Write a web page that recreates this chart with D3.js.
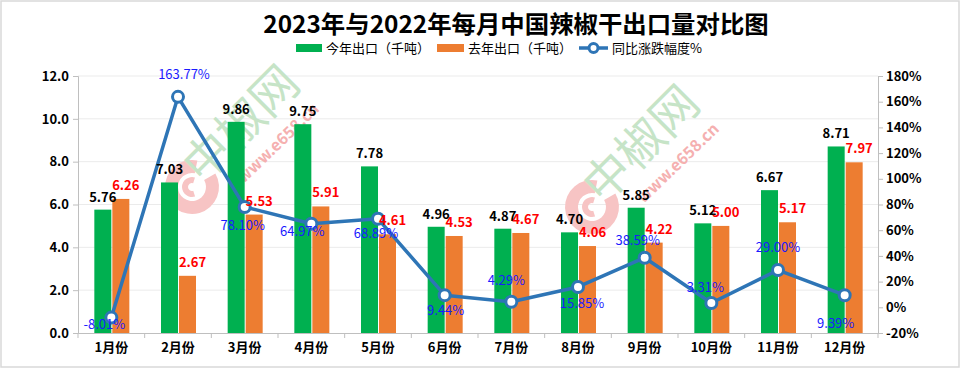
<!DOCTYPE html>
<html>
<head>
<meta charset="utf-8">
<script src="https://cdn.jsdelivr.net/npm/d3@7"></script>
<style>
  body { margin: 0; background: #fff; }
  text { font-family: "Noto Sans CJK SC", "Noto Sans", sans-serif; }
</style>
</head>
<body>
<div id="chart"></div>
<script>
// data
const months = ["1月份", "2月份", "3月份", "4月份", "5月份", "6月份", "7月份", "8月份", "9月份", "10月份", "11月份", "12月份"];
const thisYear = [5.76, 7.03, 9.86, 9.75, 7.78, 4.96, 4.87, 4.70, 5.85, 5.12, 6.67, 8.71];
const lastYear = [6.26, 2.67, 5.53, 5.91, 4.61, 4.53, 4.67, 4.06, 4.22, 5.00, 5.17, 7.97];
const change = [-8.01, 163.77, 78.10, 64.97, 68.89, 9.44, 4.29, 15.85, 38.59, 3.31, 29.00, 9.39];
const leftTicks = [0, 2, 4, 6, 8, 10, 12];
const rightTicks = [-20, 0, 20, 40, 60, 80, 100, 120, 140, 160, 180];

// where each percent label sits relative to its point (layout, not data)
const pctLabelOffset = [[-7, 7], [6, -22], [-2, 19], [-9, 8], [-2, 15], [1, 15],
                        [-5, -21], [4, 17], [-7, -17], [-6, -16], [0, -23], [-9, 28]];

const W = 961, H = 370;
const margin = { left: 78, right: 83, top: 76, bottom: 37 };
const green = "#00b050", orange = "#ed7d31", lineColor = "#2e75b6";

const svg = d3.select("#chart").append("svg")
    .attr("width", W)
    .attr("height", H);

// outer frame
svg.append("rect")
    .attr("x", 1).attr("y", 1)
    .attr("width", W - 3).attr("height", H - 4)
    .attr("fill", "#fff")
    .attr("stroke", "#d9d9d9")
    .attr("stroke-width", 1.5);

const x = d3.scaleBand()
    .domain(months)
    .range([margin.left, W - margin.right]);

const yL = d3.scaleLinear().domain([0, 12]).range([H - margin.bottom, margin.top]);
const yR = d3.scaleLinear().domain([-20, 180]).range([H - margin.bottom, margin.top]);

// gridlines
svg.append("g")
    .selectAll("line")
    .data(leftTicks.slice(1))
    .join("line")
    .attr("x1", margin.left).attr("x2", W - margin.right)
    .attr("y1", d => yL(d)).attr("y2", d => yL(d))
    .attr("stroke", "#ebebeb")
    .attr("stroke-width", 1);

// faint site watermarks behind the bars
function watermark(tx, ty) {
    const g = svg.append("g").attr("transform", `translate(${tx},${ty})`);
    const logo = g.append("g").attr("transform", "translate(-48,64)").attr("fill", "#f7c4c4");
    logo.append("path")
        .attr("d", d3.arc().innerRadius(14).outerRadius(27).startAngle(Math.PI / 3).endAngle(2 * Math.PI + 0.2)());
    logo.append("path")
        .attr("d", d3.arc().innerRadius(4).outerRadius(10).startAngle(Math.PI * 0.9).endAngle(2 * Math.PI + 0.3)());
    g.append("text")
        .attr("transform", "rotate(-45)")
        .attr("dy", "0.38em")
        .attr("font-size", 47)
        .attr("fill", "#c6e4c7")
        .attr("text-anchor", "middle")
        .text("中椒网");
    g.append("text")
        .attr("transform", "translate(38,20) rotate(-44)")
        .attr("dy", "0.35em")
        .attr("font-size", 16).attr("font-weight", "bold")
        .attr("fill", "#f5b0b0")
        .attr("text-anchor", "middle")
        .text("www.e658.cn");
}
watermark(240, 123);
watermark(640, 143);

// bars
const barW = 17;
svg.append("g")
    .selectAll("rect")
    .data(thisYear)
    .join("rect")
    .attr("x", (d, i) => x(months[i]) + x.bandwidth() / 2 - barW)
    .attr("y", d => yL(d))
    .attr("width", barW)
    .attr("height", d => yL(0) - yL(d))
    .attr("fill", green);

svg.append("g")
    .selectAll("rect")
    .data(lastYear)
    .join("rect")
    .attr("x", (d, i) => x(months[i]) + x.bandwidth() / 2 + 1)
    .attr("y", d => yL(d))
    .attr("width", barW)
    .attr("height", d => yL(0) - yL(d))
    .attr("fill", orange);

// axes
const axisColor = "#bfbfbf";
const axisL = svg.append("g")
    .attr("transform", `translate(${margin.left},0)`)
    .call(d3.axisLeft(yL).tickValues(leftTicks).tickFormat(d3.format(".1f")).tickSize(5).tickPadding(4));
const axisR = svg.append("g")
    .attr("transform", `translate(${W - margin.right},0)`)
    .call(d3.axisRight(yR).tickValues(rightTicks).tickFormat(d => d + "%").tickSize(5).tickPadding(3));
const axisB = svg.append("g")
    .attr("transform", `translate(0,${H - margin.bottom})`)
    .call(d3.axisBottom(x).tickSize(0).tickPadding(10));

// category boundary ticks on the bottom axis
svg.append("g")
    .selectAll("line")
    .data(d3.range(months.length + 1))
    .join("line")
    .attr("x1", i => margin.left + i * x.bandwidth())
    .attr("x2", i => margin.left + i * x.bandwidth())
    .attr("y1", H - margin.bottom).attr("y2", H - margin.bottom + 5)
    .attr("stroke", axisColor);

[axisL, axisR, axisB].forEach(a => {
    a.selectAll("path, line").attr("stroke", axisColor);
    a.selectAll("text")
        .attr("font-family", '"Noto Sans CJK SC", sans-serif')
        .attr("font-size", 13)
        .attr("font-weight", "bold")
        .attr("fill", "#000");
});

// line series
const line = d3.line()
    .x((d, i) => x(months[i]) + x.bandwidth() / 2)
    .y(d => yR(d));

svg.append("path")
    .datum(change)
    .attr("d", line)
    .attr("fill", "none")
    .attr("stroke", lineColor)
    .attr("stroke-width", 3.5)
    .attr("stroke-linejoin", "round");

svg.append("g")
    .selectAll("circle")
    .data(change)
    .join("circle")
    .attr("cx", (d, i) => x(months[i]) + x.bandwidth() / 2)
    .attr("cy", d => yR(d))
    .attr("r", 5.5)
    .attr("fill", "#fff")
    .attr("stroke", lineColor)
    .attr("stroke-width", 3);

// value labels
svg.append("g")
    .selectAll("text")
    .data(thisYear)
    .join("text")
    .attr("x", (d, i) => x(months[i]) + x.bandwidth() / 2 - barW / 2)
    .attr("y", d => yL(d) - 8)
    .attr("text-anchor", "middle")
    .attr("font-size", 13).attr("font-weight", "bold")
    .attr("fill", "#000")
    .text(d => d.toFixed(2));

svg.append("g")
    .selectAll("text")
    .data(lastYear)
    .join("text")
    .attr("x", (d, i) => x(months[i]) + x.bandwidth() / 2 + 1 + barW / 2 + 5)
    .attr("y", d => yL(d) - 9)
    .attr("text-anchor", "middle")
    .attr("font-size", 13).attr("font-weight", "bold")
    .attr("fill", "#ff0000")
    .text(d => d.toFixed(2));

svg.append("g")
    .selectAll("text")
    .data(change)
    .join("text")
    .attr("x", (d, i) => x(months[i]) + x.bandwidth() / 2 + pctLabelOffset[i][0])
    .attr("y", (d, i) => yR(d) + pctLabelOffset[i][1])
    .attr("dy", "0.35em")
    .attr("text-anchor", "middle")
    .attr("font-size", 13)
    .attr("fill", "#1a1aff")
    .text(d => d.toFixed(2) + "%");

// title
svg.append("text")
    .attr("x", 516).attr("y", 33)
    .attr("text-anchor", "middle")
    .attr("font-size", 24.4).attr("font-weight", "bold")
    .attr("fill", "#000")
    .text("2023年与2022年每月中国辣椒干出口量对比图");

// legend
const legend = svg.append("g").attr("transform", "translate(0,48)");
legend.append("rect").attr("x", 296).attr("y", -4).attr("width", 26).attr("height", 8).attr("fill", green);
legend.append("text").attr("x", 326).attr("y", 0).attr("dy", "0.35em").attr("font-size", 13).text("今年出口（千吨）");
legend.append("rect").attr("x", 437).attr("y", -4).attr("width", 27).attr("height", 8).attr("fill", orange);
legend.append("text").attr("x", 468).attr("y", 0).attr("dy", "0.35em").attr("font-size", 13).text("去年出口（千吨）");
legend.append("line").attr("x1", 579).attr("x2", 608).attr("y1", 0).attr("y2", 0)
    .attr("stroke", lineColor).attr("stroke-width", 3.5);
legend.append("circle").attr("cx", 593.5).attr("cy", 0).attr("r", 4.5)
    .attr("fill", "#fff").attr("stroke", lineColor).attr("stroke-width", 3);
legend.append("text").attr("x", 612).attr("y", 0).attr("dy", "0.35em").attr("font-size", 13).text("同比涨跌幅度%");
</script>
</body>
</html>
